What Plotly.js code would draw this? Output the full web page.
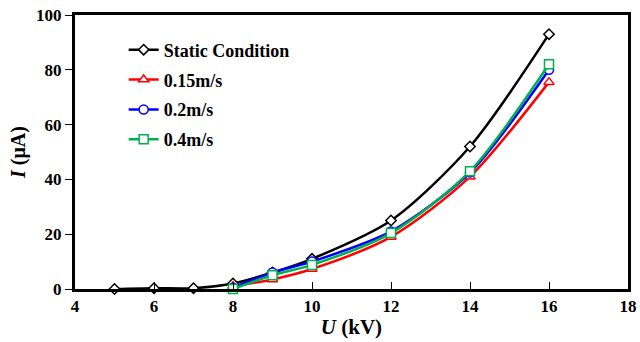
<!DOCTYPE html>
<html><head><meta charset="utf-8">
<script src="https://cdn.plot.ly/plotly-3.0.1.min.js"></script>
<style>html,body{margin:0;padding:0;background:#fff}</style>
</head><body><div id="chart" style="width:640px;height:342px"></div>
<script>
const seriesNames = ["Static Condition", "0.15m/s", "0.2m/s", "0.4m/s"];
const xStatic = [5, 6, 7, 8, 9, 10, 12, 14, 16];
const yStatic = [0, 0.3, 0.3, 2, 6, 11, 25, 52, 93];
const xMoving = [8, 9, 10, 12, 14, 16];
const y015 = [1, 3.5, 7.3, 19, 41, 75.5];
const y02 = [0.5, 6, 10, 21, 42.5, 80];
const y04 = [0, 5, 8.8, 20.4, 43, 82];
const xTicks = [4, 6, 8, 10, 12, 14, 16, 18];
const yTicks = [0, 20, 40, 60, 80, 100];

const colors = ["#000000", "#ff0000", "#0000ff", "#00b050"];
const symbols = ["diamond", "triangle-up", "circle", "square"];
const sizes = [8, 9, 9, 9];
const xs = [xStatic, xMoving, xMoving, xMoving];
const ys = [yStatic, y015, y02, y04];

const traces = seriesNames.map((n, i) => ({
  x: xs[i], y: ys[i], name: n, type: 'scatter', mode: 'lines+markers',
  legendgroup: 'g' + i,
  line: {color: colors[i], width: 2.5, shape: 'spline', smoothing: 0.8},
  marker: {symbol: symbols[i], size: sizes[i], color: '#ffffff', line: {width: 1.5, color: colors[i]}},
  cliponaxis: false
}));

const fam = '"Liberation Serif", "Times New Roman", serif';
const layout = {
  width: 640, height: 342,
  margin: {l: 75, r: 12, t: 15, b: 53},
  paper_bgcolor: '#fff', plot_bgcolor: '#fff',
  font: {family: fam, size: 16, color: '#000'},
  showlegend: true,
  legend: {x: 0.088, y: 0.94, xanchor: 'left', yanchor: 'top', bgcolor: 'rgba(0,0,0,0)',
    font: {family: fam, size: 18, color: '#000', weight: 'bold'}, tracegroupgap: 3.5, itemwidth: 30},
  xaxis: {
    range: [4, 18], tickvals: xTicks,
    showgrid: false, zeroline: false, showline: true, linecolor: '#000', linewidth: 3, mirror: true,
    ticks: 'inside', ticklen: 7, tickwidth: 1, tickcolor: '#000',
    tickfont: {family: fam, size: 17, color: '#000', weight: 'bold'},
    title: {text: '<i>U</i> (kV)', font: {family: fam, size: 21, color: '#000', weight: 'bold'}, standoff: 4}
  },
  yaxis: {
    range: [0, 100], tickvals: yTicks,
    showgrid: false, zeroline: false, showline: true, linecolor: '#000', linewidth: 3, mirror: true,
    ticks: 'outside', ticklen: 7, tickwidth: 1, tickcolor: '#000',
    tickfont: {family: fam, size: 17, color: '#000', weight: 'bold'},
    title: {text: '<i>I</i> (μA)', font: {family: fam, size: 20, color: '#000', weight: 'bold'}, standoff: 6}
  }
};
Plotly.newPlot('chart', traces, layout, {displayModeBar: false, staticPlot: true});
</script></body></html>
